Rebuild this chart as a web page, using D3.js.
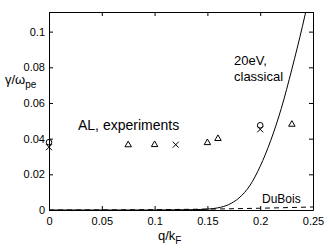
<!DOCTYPE html>
<html>
<head>
<meta charset="utf-8">
<script src="https://cdn.jsdelivr.net/npm/d3@7"></script>
<style>
  body { margin: 0; background: #fff; }
  text { font-family: "Liberation Sans", Arial, sans-serif; }
</style>
</head>
<body>
<script>
// experiment points
let triQ = [0.075, 0.1, 0.15, 0.16, 0.23];
let triG = [0.0365, 0.0366, 0.0377, 0.0400, 0.0480];
let crossQ = [0, 0.12, 0.2];
let crossG = [0.0352, 0.0366, 0.0452];
let circQ = [0, 0.2];
let circG = [0.0380, 0.0475];

// 20eV classical curve
let classQ = [0, 0.1, 0.14, 0.15, 0.16, 0.17, 0.18, 0.19, 0.2, 0.21, 0.22, 0.23, 0.24, 0.245];
let classG = [0, 0, 0.0002, 0.0005, 0.0012, 0.003, 0.0068, 0.0135, 0.0245, 0.039, 0.057, 0.079, 0.103, 0.116];

// DuBois curve
let dbQ = [0, 0.1, 0.15, 0.2, 0.25];
let dbG = [0, 0.0002, 0.0005, 0.001, 0.0017];

let xTicks = [0, 0.05, 0.1, 0.15, 0.2, 0.25];
let yTicks = [0, 0.02, 0.04, 0.06, 0.08, 0.1];

let width = 330;
let height = 248;
let marginTop = 12;
let marginRight = 17;
let marginBottom = 38;
let marginLeft = 49;

let x = d3.scaleLinear()
    .domain([0, 0.25])
    .range([marginLeft, width - marginRight]);

let y = d3.scaleLinear()
    .domain([0, 0.111])
    .range([height - marginBottom, marginTop]);

let svg = d3.select("body").append("svg")
    .attr("width", width)
    .attr("height", height)
    .attr("viewBox", [0, 0, width, height]);

let fmt = d => d === 0 ? "0" : String(d);

// axes with inward ticks, MATLAB style
svg.append("g")
    .attr("transform", `translate(0,${height - marginBottom})`)
    .call(d3.axisBottom(x).tickValues(xTicks).tickFormat(fmt).tickSizeInner(-4).tickSizeOuter(0).tickPadding(7))
    .call(g => g.selectAll("text").style("font-size", "11px"));

svg.append("g")
    .attr("transform", `translate(0,${marginTop})`)
    .call(d3.axisTop(x).tickValues(xTicks).tickFormat("").tickSizeInner(-4).tickSizeOuter(0));

svg.append("g")
    .attr("transform", `translate(${marginLeft},0)`)
    .call(d3.axisLeft(y).tickValues(yTicks).tickFormat(fmt).tickSizeInner(-4).tickSizeOuter(0).tickPadding(4))
    .call(g => g.selectAll("text").style("font-size", "11px"));

svg.append("g")
    .attr("transform", `translate(${width - marginRight},0)`)
    .call(d3.axisRight(y).tickValues(yTicks).tickFormat("").tickSizeInner(-4).tickSizeOuter(0));

svg.selectAll(".domain").attr("stroke", "#000");
svg.selectAll(".tick line").attr("stroke", "#000");

// clip for curves
svg.append("clipPath").attr("id", "clip")
    .append("rect")
    .attr("x", marginLeft).attr("y", marginTop)
    .attr("width", width - marginLeft - marginRight)
    .attr("height", height - marginTop - marginBottom);

let line = d3.line()
    .x(d => x(d[0]))
    .y(d => y(d[1]))
    .curve(d3.curveMonotoneX);

svg.append("path")
    .datum(d3.zip(classQ, classG))
    .attr("clip-path", "url(#clip)")
    .attr("fill", "none")
    .attr("stroke", "#000")
    .attr("stroke-width", 1)
    .attr("d", line);

svg.append("path")
    .datum(d3.zip(dbQ, dbG))
    .attr("clip-path", "url(#clip)")
    .attr("fill", "none")
    .attr("stroke", "#000")
    .attr("stroke-width", 1)
    .attr("stroke-dasharray", "5,4")
    .attr("d", line);

// markers
let tri = d3.symbol().type(d3.symbolTriangle).size(18);
svg.selectAll(".tri")
    .data(d3.zip(triQ, triG))
    .join("path")
    .attr("class", "tri")
    .attr("transform", d => `translate(${x(d[0])},${y(d[1])})`)
    .attr("d", tri)
    .attr("fill", "none")
    .attr("stroke", "#000")
    .attr("stroke-width", 1);

svg.selectAll(".cross")
    .data(d3.zip(crossQ, crossG))
    .join("path")
    .attr("class", "cross")
    .attr("transform", d => `translate(${x(d[0])},${y(d[1])})`)
    .attr("d", "M-3,-3L3,3M-3,3L3,-3")
    .attr("fill", "none")
    .attr("stroke", "#000")
    .attr("stroke-width", 1);

svg.selectAll(".circ")
    .data(d3.zip(circQ, circG))
    .join("circle")
    .attr("class", "circ")
    .attr("cx", d => x(d[0]))
    .attr("cy", d => y(d[1]))
    .attr("r", 2.8)
    .attr("fill", "none")
    .attr("stroke", "#000")
    .attr("stroke-width", 1);

// labels
svg.append("text")
    .attr("x", 78).attr("y", 130)
    .style("font-size", "14px")
    .text("AL, experiments");

svg.append("text")
    .attr("x", 234).attr("y", 65)
    .style("font-size", "13px")
    .text("20eV,");

svg.append("text")
    .attr("x", 234).attr("y", 81)
    .style("font-size", "13px")
    .text("classical");

svg.append("text")
    .attr("x", 262).attr("y", 203)
    .style("font-size", "12px")
    .text("DuBois");

let xl = svg.append("text")
    .attr("x", 158).attr("y", 240)
    .style("font-size", "13px");
xl.append("tspan").text("q/k");
xl.append("tspan").attr("dy", 4).style("font-size", "10px").text("F");

let yl = svg.append("text")
    .attr("x", 5).attr("y", 84)
    .style("font-size", "13px");
yl.append("tspan").text("γ/ω");
yl.append("tspan").attr("dy", 4).style("font-size", "10px").text("pe");
</script>
</body>
</html>
